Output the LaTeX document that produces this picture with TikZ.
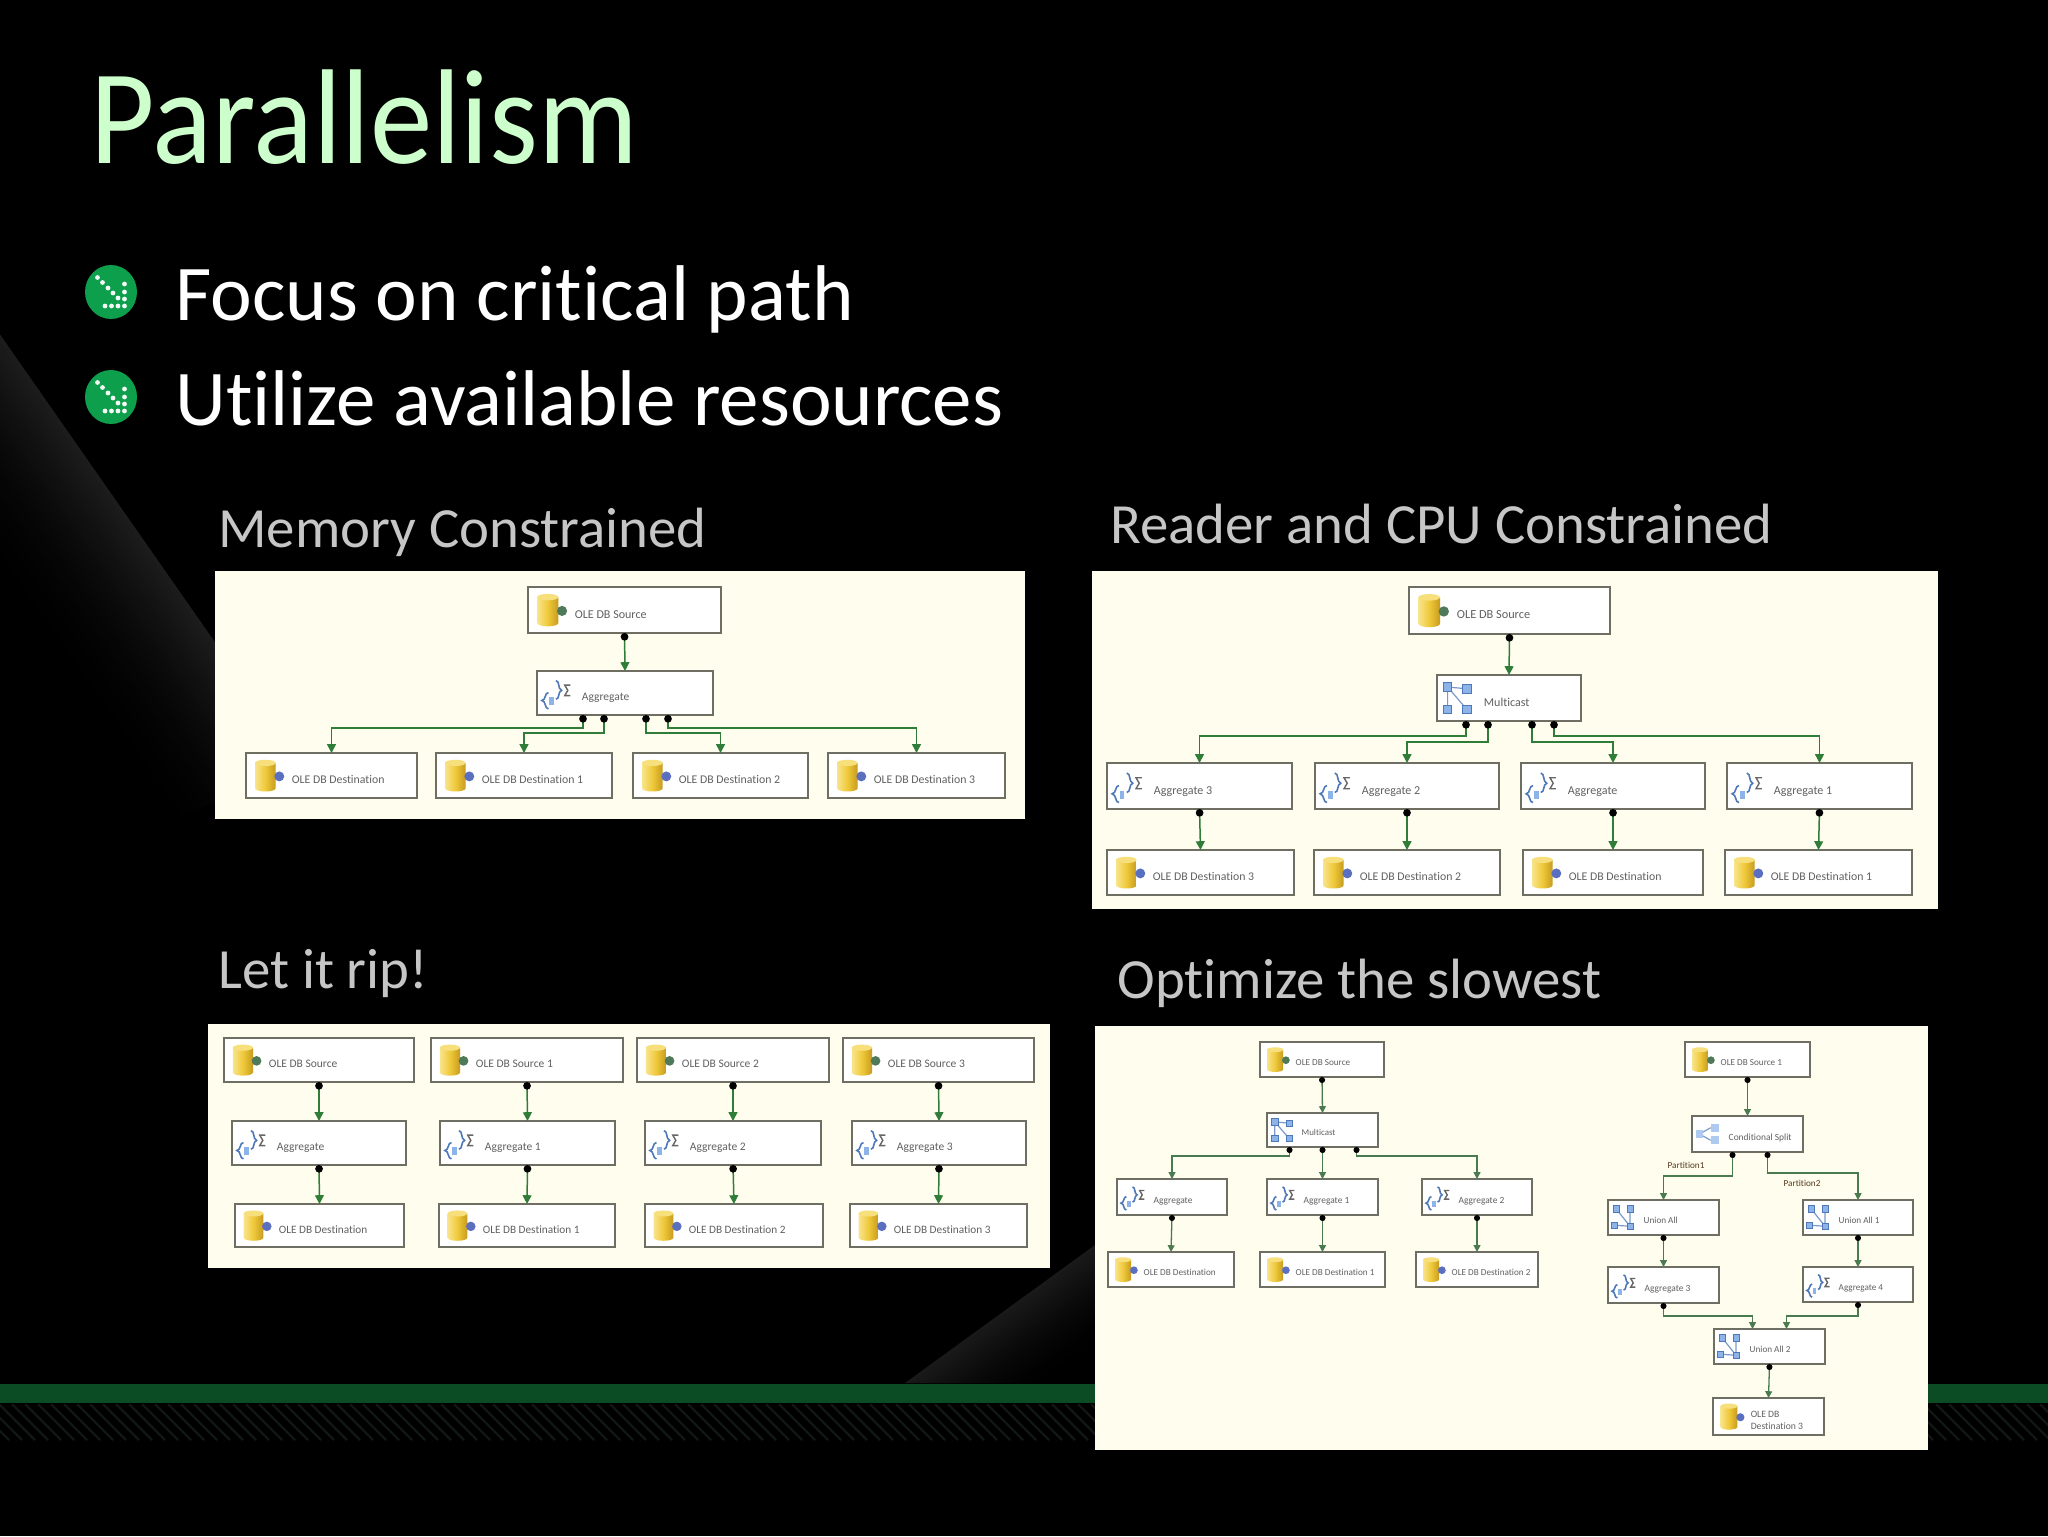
\documentclass[tikz,border=0pt]{standalone}
\usepackage{fontspec}
\setmainfont[Ligatures=NoCommon]{Carlito}
\newfontfamily\titlefont[FakeStretch=0.925,Ligatures=NoCommon]{Carlito}
\usetikzlibrary{arrows.meta,calc}
\definecolor{panelbg}{HTML}{FEFDEE}
\definecolor{boxedge}{HTML}{6E6E62}
\definecolor{flowgreen}{HTML}{2F7D38}
\definecolor{flowdim}{HTML}{4A7A50}
\definecolor{band}{HTML}{0C4C24}
\definecolor{hatchc}{HTML}{111813}
\definecolor{titlec}{HTML}{CCFFCC}
\definecolor{headc}{HTML}{C6C6C6}
\definecolor{bullc}{HTML}{0E9F4D}
\definecolor{iconb}{HTML}{4F78B8}
\definecolor{iconf}{HTML}{8DB4E8}
\definecolor{srcdot}{HTML}{4F7A5A}
\definecolor{dstdot}{HTML}{5A6FC0}
\definecolor{goldl}{HTML}{F9E48C}
\definecolor{goldm}{HTML}{EFC93A}
\definecolor{goldr}{HTML}{C79B1E}
\tikzset{
  panel/.style={fill=panelbg,draw=none},
  taskbox/.style={draw=boxedge,line width=1pt,fill=white,inner sep=0pt,outer sep=0pt,text=black!62},
  flow/.style={draw=flowgreen,line width=.75pt,{Circle[black,length=3.8pt,width=3.8pt]}-{Triangle[flowgreen,length=4.4pt,width=4.4pt]}},
  flows/.style={draw=flowdim,line width=.65pt,{Circle[black,length=3pt,width=3pt]}-{Triangle[flowdim,length=3.4pt,width=3.4pt]}},
  head/.style={anchor=base west,text=headc,font=\fontsize{28.4}{30}\selectfont,inner sep=0pt},
  bodytext/.style={anchor=base west,text=white,font=\fontsize{39.5}{42}\selectfont,inner sep=0pt},
  partlabel/.style={text=black!55!brown,font=\fontsize{4.6}{5}\selectfont,inner sep=0pt},
  icn/.style={draw=iconb,line width=.8pt},
  sq/.style={fill=iconf,draw=iconb,line width=.4pt},
  lnk/.style={draw=iconb!75,line width=.6pt},
}
\newcommand\iconDB[1]{%
  \shade[left color=goldl,right color=goldr,middle color=goldm]
    (-.23,-.28) -- (-.23,.28) .. controls (-.23,.38) and (.23,.38) .. (.23,.28) -- (.23,-.28) -- cycle;
  \fill[goldl!80!goldm] (0,-.28) ellipse [x radius=.23,y radius=.07];
  \fill[#1] (.31,.02) circle [radius=.11];
}
\newcommand\iconAG{%
  \begin{scope}[shift={(0,.04)}]
  \draw[icn] (-.17,-.05) .. controls (-.26,-.05) and (-.22,.12) .. (-.32,.13) .. controls (-.22,.14) and (-.26,.32) .. (-.17,.32);
  \fill[iconf] (-.15,.06) rectangle (-.05,.24);
  \draw[icn] (0,-.32) .. controls (.09,-.32) and (.04,-.12) .. (.13,-.1) .. controls (.04,-.08) and (.09,.1) .. (0,.1);
  \draw[draw=black!60,line width=.7pt] (.33,-.22) -- (.2,-.22) -- (.27,-.1) -- (.2,.02) -- (.33,.02);
  \end{scope}
}
\newcommand\iconMC{%
  \draw[lnk] (-.2,-.24) -- (.22,-.2) (-.2,-.24) -- (.22,.25) (-.2,-.24) -- (-.2,.25);
  \foreach \qx/\qy in {-.2/-.24,.22/-.2,-.2/.25,.22/.25}{\draw[sq] (\qx-.09,\qy-.09) rectangle (\qx+.09,\qy+.09);}
}
\newcommand\iconUA{%
  \draw[lnk] (-.2,-.25) -- (.2,.25) (.2,-.25) -- (.2,.25) (-.25,.22) -- (.2,.25);
  \foreach \qx/\qy in {-.2/-.25,.2/-.25,-.25/.22,.2/.25}{\draw[sq] (\qx-.09,\qy-.09) rectangle (\qx+.09,\qy+.09);}
}
\newcommand\iconCS{%
  \draw[lnk] (-.22,0) -- (.08,-.17) -- (.2,-.17) (-.22,0) -- (.08,.17) -- (.2,.17);
  \foreach \qx/\qy in {-.22/0,.2/-.17,.2/.17}{\draw[sq,iconf!70] (\qx-.09,\qy-.1) rectangle (\qx+.09,\qy+.1);}
}
% name x1 y1 x2 y2 icon label
\newcommand\ssistask[7]{%
  \pgfmathsetmacro\tkW{(#4-#2)*0.5}%
  \pgfmathsetmacro\tkH{(#5-#3)*0.5}%
  \pgfmathsetmacro\tkFS{\tkH*0.262}%
  \pgfmathsetmacro\tkPad{\tkH*1.02}%
  \pgfmathsetmacro\tkDrop{\tkH*0.175}%
  \node[taskbox,minimum width=\tkW pt,minimum height=\tkH pt] (#1) at ({(#2+#4)/2},{(#3+#5)/2})
    {\makebox[\tkW pt][l]{\hspace{\tkPad pt}\raisebox{-\tkDrop pt}[0pt][0pt]{\fontsize{\tkFS}{\tkFS}\selectfont #7}}};
  \begin{scope}[shift={({#2+0.43*(#5-#3)},{(#3+#5)/2})},x=\tkH pt,y=-\tkH pt]
    #6
  \end{scope}
}
\newcommand\bulletmark[2]{%
  \begin{scope}[shift={(#1,#2)}]
    \fill[bullc] (0,0) ellipse [x radius=26,y radius=27];
    \foreach \qx/\qy in {-13.5/-14.5,-8.5/-9.5,-3/-4,2/1,7/6,13.5/14,13.5/-8,13.5/0,13.5/7,7/14,0.5/14,-6/14}
      {\fill[white!95!bullc] (\qx,\qy) circle [radius=2.4];}
  \end{scope}
}
\begin{document}
\begin{tikzpicture}[x=0.5pt,y=-0.5pt]
\useasboundingbox (0,0) rectangle (2048,1536);
\fill[black] (0,0) rectangle (2048,1536);
% background wedges
\begin{scope}
  \clip (0,334) -- (300,763) -- (0,900) -- cycle;
  \foreach \i in {0,...,29}{
    \pgfmathsetmacro\dd{4.5*\i}\pgfmathsetmacro\de{\dd+6}
    \pgfmathsetmacro\vv{11*(1-\i/30)^1.8}
    \fill[white!\vv!black] ({-200-.819*\dd},{48+.573*\dd}) -- ({400-.819*\dd},{907+.573*\dd})
      -- ({400-.819*\de},{907+.573*\de}) -- ({-200-.819*\de},{48+.573*\de}) -- cycle;
  }
\end{scope}
\begin{scope}
  \clip (905,1383) -- (1095,1245) -- (1095,1383) -- cycle;
  \foreach \i in {0,...,19}{
    \pgfmathsetmacro\dd{4*\i}\pgfmathsetmacro\de{\dd+6}
    \pgfmathsetmacro\vv{10*(1-\i/20)^1.6}
    \fill[white!\vv!black] ({800+.588*\dd},{1459+.809*\dd}) -- ({1200+.588*\dd},{1168+.809*\dd})
      -- ({1200+.588*\de},{1168+.809*\de}) -- ({800+.588*\de},{1459+.809*\de}) -- cycle;
  }
\end{scope}
% green band and hatching
\fill[band] (0,1384) rectangle (2048,1403);
\begin{scope}
  \clip (0,1404) rectangle (2048,1440);
  \foreach \hx in {-40,-27,...,2048}{\draw[hatchc,line width=1.1pt] (\hx,1404) -- (\hx+36,1440);}
\end{scope}
% title and bullets
\node[anchor=base west,inner sep=0pt,text=titlec,font=\titlefont\fontsize{67.5}{70}\selectfont] (title) at (90,163) {Parallelism};
\bulletmark{111}{292}
\bulletmark{111}{397}
\node[bodytext] (b1) at (175,320) {Focus on critical path};
\node[bodytext] (b2) at (175,425) {Utilize available resources};
\node[head] (h1) at (218,547) {Memory Constrained};
\node[head] (h2) at (1110,543) {Reader and CPU Constrained};
\node[head] (h3) at (218,988) {Let it rip!};
\node[head] (h4) at (1117,998) {Optimize the slowest};
% panel 1
\fill[panel] (215,571) rectangle (1025,819);
\ssistask{asrc}{528}{587}{721}{633}{\iconDB{srcdot}}{OLE DB Source}
\ssistask{aagg}{537}{671}{713}{715}{\iconAG}{Aggregate}
\ssistask{ad0}{246}{753}{417}{798}{\iconDB{dstdot}}{OLE DB Destination}
\ssistask{ad1}{436}{753}{612}{798}{\iconDB{dstdot}}{OLE DB Destination 1}
\ssistask{ad2}{633}{753}{808}{798}{\iconDB{dstdot}}{OLE DB Destination 2}
\ssistask{ad3}{828}{753}{1005}{798}{\iconDB{dstdot}}{OLE DB Destination 3}
\draw[flow] (asrc.south) -- (aagg.north);
\draw[flow] ($(aagg.south)+(-42,0)$) -- ++(0,13) -| (ad0.north);
\draw[flow] ($(aagg.south)+(-21,0)$) -- ++(0,18) -| (ad1.north);
\draw[flow] ($(aagg.south)+(21,0)$) -- ++(0,18) -| (ad2.north);
\draw[flow] ($(aagg.south)+(43,0)$) -- ++(0,13) -| (ad3.north);
% panel 2
\fill[panel] (1092,571) rectangle (1938,909);
\ssistask{bsrc}{1409}{587}{1610}{634}{\iconDB{srcdot}}{OLE DB Source}
\ssistask{bmc}{1437}{675}{1581}{721}{\iconMC}{Multicast}
\ssistask{bag0}{1107}{763}{1292}{809}{\iconAG}{Aggregate 3}
\ssistask{bag1}{1315}{763}{1499}{809}{\iconAG}{Aggregate 2}
\ssistask{bag2}{1521}{763}{1705}{809}{\iconAG}{Aggregate}
\ssistask{bag3}{1727}{763}{1912}{809}{\iconAG}{Aggregate 1}
\ssistask{bd0}{1107}{850}{1294}{895}{\iconDB{dstdot}}{OLE DB Destination 3}
\ssistask{bd1}{1314}{850}{1500}{895}{\iconDB{dstdot}}{OLE DB Destination 2}
\ssistask{bd2}{1523}{850}{1703}{895}{\iconDB{dstdot}}{OLE DB Destination}
\ssistask{bd3}{1725}{850}{1912}{895}{\iconDB{dstdot}}{OLE DB Destination 1}
\draw[flow] (bsrc.south) -- (bmc.north);
\draw[flow] ($(bmc.south)+(-43,0)$) -- ++(0,15) -| (bag0.north);
\draw[flow] ($(bmc.south)+(-21,0)$) -- ++(0,21) -| (bag1.north);
\draw[flow] ($(bmc.south)+(23,0)$) -- ++(0,21) -| (bag2.north);
\draw[flow] ($(bmc.south)+(45,0)$) -- ++(0,15) -| (bag3.north);
\foreach \k in {0,1,2,3}{\draw[flow] (bag\k.south) -- (bd\k.north);}
% panel 3
\fill[panel] (208,1024) rectangle (1050,1268);
\ssistask{cs0}{224}{1038}{414}{1082}{\iconDB{srcdot}}{OLE DB Source}
\ssistask{cs1}{431}{1038}{623}{1082}{\iconDB{srcdot}}{OLE DB Source 1}
\ssistask{cs2}{637}{1038}{829}{1082}{\iconDB{srcdot}}{OLE DB Source 2}
\ssistask{cs3}{843}{1038}{1034}{1082}{\iconDB{srcdot}}{OLE DB Source 3}
\ssistask{cg0}{232}{1121}{406}{1165}{\iconAG}{Aggregate}
\ssistask{cg1}{440}{1121}{615}{1165}{\iconAG}{Aggregate 1}
\ssistask{cg2}{645}{1121}{821}{1165}{\iconAG}{Aggregate 2}
\ssistask{cg3}{852}{1121}{1026}{1165}{\iconAG}{Aggregate 3}
\ssistask{cd0}{235}{1204}{404}{1247}{\iconDB{dstdot}}{OLE DB Destination}
\ssistask{cd1}{439}{1204}{615}{1247}{\iconDB{dstdot}}{OLE DB Destination 1}
\ssistask{cd2}{645}{1204}{823}{1247}{\iconDB{dstdot}}{OLE DB Destination 2}
\ssistask{cd3}{850}{1204}{1027}{1247}{\iconDB{dstdot}}{OLE DB Destination 3}
\foreach \k in {0,1,2,3}{\draw[flow] (cs\k.south) -- (cg\k.north); \draw[flow] (cg\k.south) -- (cd\k.north);}
% panel 4
\fill[panel] (1095,1026) rectangle (1928,1450);
\ssistask{dsrc}{1260}{1042}{1384}{1077}{\iconDB{srcdot}}{OLE DB Source}
\ssistask{dmc}{1267}{1113}{1378}{1147}{\iconMC}{Multicast}
\ssistask{dg0}{1117}{1179}{1227}{1215}{\iconAG}{Aggregate}
\ssistask{dg1}{1267}{1179}{1378}{1215}{\iconAG}{Aggregate 1}
\ssistask{dg2}{1422}{1179}{1532}{1215}{\iconAG}{Aggregate 2}
\ssistask{dd0}{1108}{1252}{1234}{1287}{\iconDB{dstdot}}{OLE DB Destination}
\ssistask{dd1}{1260}{1252}{1385}{1287}{\iconDB{dstdot}}{OLE DB Destination 1}
\ssistask{dd2}{1416}{1252}{1538}{1287}{\iconDB{dstdot}}{OLE DB Destination 2}
\draw[flows] (dsrc.south) -- (dmc.north);
\draw[flows] ($(dmc.south)+(-33,0)$) -- ++(0,9) -| (dg0.north);
\draw[flows] (dmc.south) -- (dg1.north);
\draw[flows] ($(dmc.south)+(34,0)$) -- ++(0,9) -| (dg2.north);
\foreach \k in {0,1,2}{\draw[flows] (dg\k.south) -- (dd\k.north);}
\ssistask{esrc}{1685}{1042}{1810}{1077}{\iconDB{srcdot}}{OLE DB Source 1}
\ssistask{ecs}{1692}{1116}{1803}{1152}{\iconCS}{Conditional Split}
\ssistask{eu0}{1608}{1200}{1719}{1235}{\iconUA}{Union All}
\ssistask{eu1}{1803}{1200}{1913}{1235}{\iconUA}{Union All 1}
\ssistask{eg0}{1608}{1267}{1719}{1303}{\iconAG}{Aggregate 3}
\ssistask{eg1}{1803}{1267}{1913}{1302}{\iconAG}{Aggregate 4}
\ssistask{eu2}{1714}{1329}{1825}{1364}{\iconUA}{Union All 2}
\ssistask{ed}{1713}{1398}{1824}{1435}{\iconDB{dstdot}}{\raisebox{-3.4pt}{\shortstack[l]{OLE DB\\Destination 3}}}
\draw[flows] (esrc.south) -- (ecs.north);
\draw[flows] ($(ecs.south)+(-15,0)$) -- ++(0,24) -| (eu0.north);
\draw[flows] ($(ecs.south)+(20,0)$) -- ++(0,21) -| (eu1.north);
\draw[flows] (eu0.south) -- (eg0.north);
\draw[flows] (eu1.south) -- (eg1.north);
\draw[flows] (eg0.south) -- ++(0,13) -| ($(eu2.north)+(-17,0)$);
\draw[flows] (eg1.south) -- ++(0,14) -| ($(eu2.north)+(17,0)$);
\draw[flows] (eu2.south) -- (ed.north);
\node[partlabel] (p1) at (1686,1165) {Partition1};
\node[partlabel] (p2) at (1802,1183) {Partition2};
\end{tikzpicture}
\end{document}
